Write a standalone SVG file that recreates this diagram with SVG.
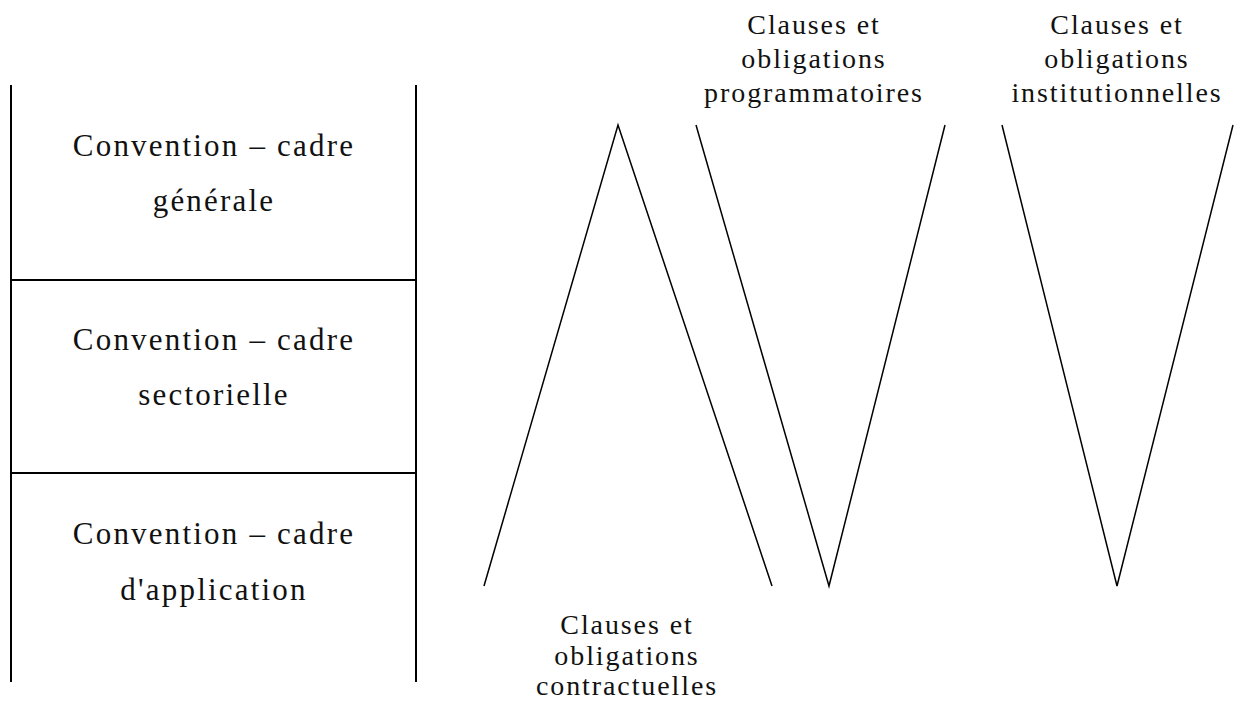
<svg xmlns="http://www.w3.org/2000/svg" width="1234" height="702" viewBox="0 0 1234 702">
<style>
.frame{stroke:#000;stroke-width:2;fill:none}
.ln{stroke:#000;stroke-width:1.5;fill:none;stroke-linecap:butt}
.big{font-family:"Liberation Serif","Times New Roman",serif;font-size:31px;letter-spacing:2.2px;fill:#111;text-anchor:middle}
.lab{font-family:"Liberation Serif","Times New Roman",serif;font-size:28px;letter-spacing:1.9px;fill:#111;text-anchor:middle}
</style>
<rect width="1234" height="702" fill="#fff"/>
<g id="frame">
<line class="frame" x1="11" y1="85" x2="11" y2="682"/>
<line class="frame" x1="416" y1="85" x2="416" y2="682"/>
<line class="frame" x1="11" y1="280" x2="416" y2="280"/>
<line class="frame" x1="11" y1="473" x2="416" y2="473"/>
</g>
<g id="box-generale">
<text class="big" x="214" y="156">Convention – cadre</text>
<text class="big" x="214" y="211">générale</text>
</g>
<g id="box-sectorielle">
<text class="big" x="214" y="350">Convention – cadre</text>
<text class="big" x="214" y="405">sectorielle</text>
</g>
<g id="box-application">
<text class="big" x="214" y="544">Convention – cadre</text>
<text class="big" x="214" y="600">d'application</text>
</g>
<g id="connectors">
<polyline class="ln" points="484,586 618,125 772,586"/>
<polyline class="ln" points="696,125 829,586 945,125"/>
<polyline class="ln" points="1002,125 1117,586 1233,125"/>
</g>
<g id="label-programmatoires">
<text class="lab" x="814" y="34">Clauses et</text>
<text class="lab" x="814" y="68">obligations</text>
<text class="lab" x="814" y="102">programmatoires</text>
</g>
<g id="label-institutionnelles">
<text class="lab" x="1117" y="34">Clauses et</text>
<text class="lab" x="1117" y="68">obligations</text>
<text class="lab" x="1117" y="102">institutionnelles</text>
</g>
<g id="label-contractuelles">
<text class="lab" x="627" y="634">Clauses et</text>
<text class="lab" x="627" y="665">obligations</text>
<text class="lab" x="627" y="695">contractuelles</text>
</g>
</svg>
